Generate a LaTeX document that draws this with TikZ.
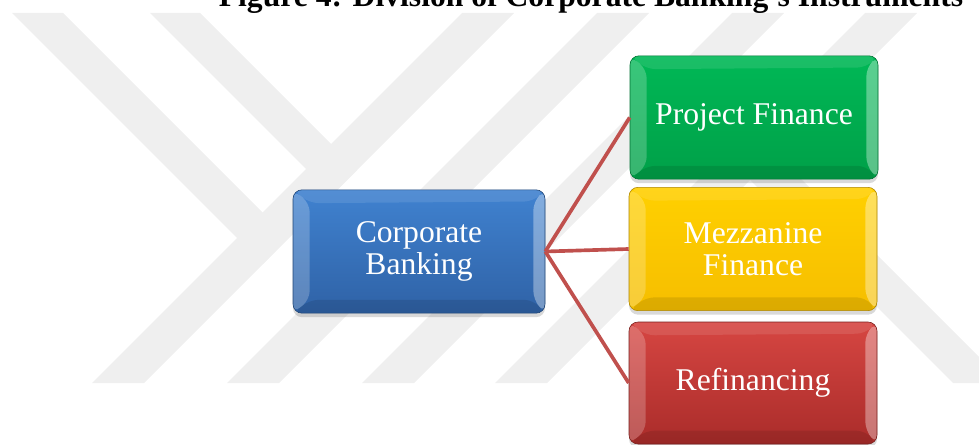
\documentclass[tikz,border=0pt]{standalone}
\usepackage{fontspec}
\setmainfont{Liberation Serif}
\usetikzlibrary{calc,shadows}

\definecolor{wmark}{RGB}{239,239,239}
\definecolor{corpblue}{RGB}{64,130,208}
\definecolor{corpbluedark}{RGB}{47,98,166}
\definecolor{projgreen}{RGB}{0,184,86}
\definecolor{projgreendark}{RGB}{0,160,72}
\definecolor{mezzyellow}{RGB}{255,208,0}
\definecolor{mezzyellowdark}{RGB}{246,190,0}
\definecolor{refired}{RGB}{214,70,66}
\definecolor{refireddark}{RGB}{170,44,42}
\definecolor{linkred}{RGB}{192,80,77}

\begin{document}
\begin{tikzpicture}[x=0.3mm, y=-0.3mm,
    bevel/.style={path picture={
        \path (path picture bounding box.north west) coordinate (bnw)
              (path picture bounding box.south east) coordinate (bse)
              (bnw |- bse) coordinate (bsw)
              (bse |- bnw) coordinate (bne);
        % side bevels light, bottom bevel dark
        \fill[white, opacity=.22] (bnw) -- (bsw) -- ($(bsw)+(5mm,4mm)$) -- ($(bnw)+(5mm,-4mm)$) -- cycle;
        \fill[white, opacity=.35] (bne) -- (bse) -- ($(bse)+(-3.5mm,4mm)$) -- ($(bne)+(-3.5mm,-3.5mm)$) -- cycle;
        \fill[white, opacity=.10] (bnw) -- (bne) -- ($(bne)+(-3.5mm,-3.5mm)$) -- ($(bnw)+(5mm,-4mm)$) -- cycle;
        \fill[black, opacity=.10] (bsw) -- (bse) -- ($(bse)+(-3.5mm,4mm)$) -- ($(bsw)+(5mm,4mm)$) -- cycle;
    }},
    box/.style 2 args={bevel, rounded corners=2.7mm, inner sep=0pt,
        minimum width=74.4mm, minimum height=37mm,
        top color=#1, bottom color=#2, draw=#2!70!black, line width=.5pt,
        text=white, align=center, font=\fontsize{27}{27.5}\selectfont,
        drop shadow={opacity=.3, shadow xshift=0pt, shadow yshift=-1.2mm}},
    link/.style={draw=linkred, line width=1.1mm}]
    \clip (0,0) rectangle (979,445);

    % watermark stripes
    \begin{scope}
        \clip (0,13) rectangle (979,383);
        \foreach \c in {475,610,745,878}
            \fill[wmark] (\c-13,13) -- (\c+39,13) -- (\c-331,383) -- (\c-383,383) -- cycle;
        \fill[wmark] (12,13) -- (63,13) -- (288,238) -- (263,264) -- cycle;
        \fill[wmark] (150,13) -- (200,13) -- (357,170) -- (332,195) -- cycle;
        \fill[wmark] (724,154) -- (750,128) -- (1005,383) -- (953,383) -- cycle;
    \end{scope}

    \node[anchor=base, font=\fontsize{27}{27}\selectfont\bfseries] (title) at (591,7)
        {Figure 4: Division of Corporate Banking's Instruments};

    \node[box={corpblue}{corpbluedark}, minimum width=75.6mm] (corp) at (419,251.5) {Corporate\\Banking};
    \node[box={projgreen}{projgreendark}] (proj) at (754,117.5) {Project Finance};
    \node[box={mezzyellow}{mezzyellowdark}] (mezz) at (753,249) {Mezzanine\\Finance};
    \node[box={refired}{refireddark}, minimum height=36.6mm] (refi) at (753,383) {Refinancing};

    \draw[link] (corp.east) -- (proj.west);
    \draw[link] (corp.east) -- (mezz.west);
    \draw[link] (corp.east) -- (refi.west);
\end{tikzpicture}
\end{document}
